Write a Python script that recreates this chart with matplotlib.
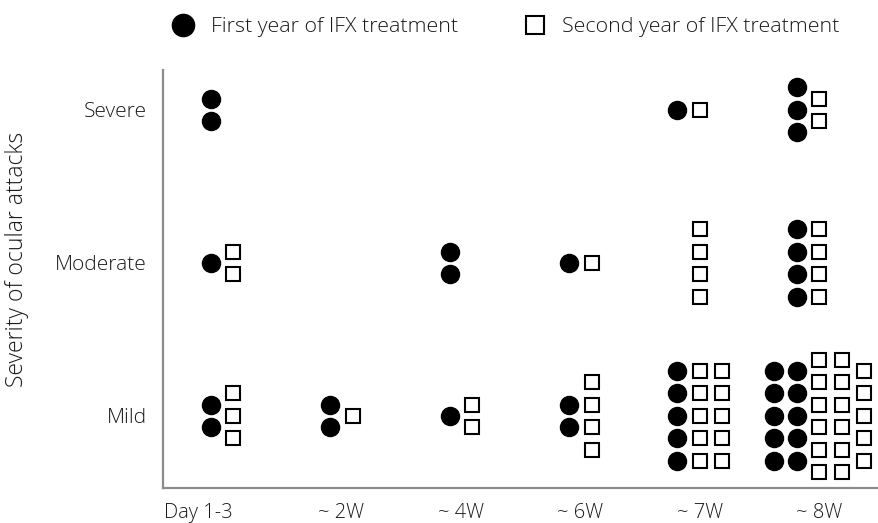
import math
import matplotlib
matplotlib.use('Agg')
import matplotlib.pyplot as plt
from matplotlib.transforms import ScaledTranslation
from matplotlib.lines import Line2D

periods = ['Day 1-3', '~ 2W', '~ 4W', '~ 6W', '~ 7W', '~ 8W']
severities = ['Mild', 'Moderate', 'Severe']

# number of ocular attacks per period (one list per severity)
first_severe = [2, 0, 0, 0, 1, 3]
first_moderate = [1, 0, 2, 1, 0, 4]
first_mild = [2, 2, 1, 2, 5, 10]
second_severe = [0, 0, 0, 0, 1, 2]
second_moderate = [2, 0, 0, 1, 4, 4]
second_mild = [3, 1, 2, 4, 10, 17]

first_year = [first_mild, first_moderate, first_severe]
second_year = [second_mild, second_moderate, second_severe]

plt.rcParams['font.family'] = ['Open Sans', 'DejaVu Sans']
plt.rcParams['font.weight'] = 'light'
TXT = '#1a1a1a'
AX = '#8c8c8c'

fig = plt.figure(figsize=(8.79, 5.23), dpi=100)
W, H = 879, 523
ax = fig.add_axes([163 / W, 1 - 488 / H, 716 / W, 418 / H])
ax.set_xlim(-0.494, 5.498)
ax.set_ylim(-0.4706, 2.261)

for s in ['top', 'right']:
    ax.spines[s].set_visible(False)
for s in ['left', 'bottom']:
    ax.spines[s].set_color(AX)
    ax.spines[s].set_linewidth(1.6)

MAXROW = 6
STEP = 22.5 / 100.0  # inches between neighbouring marks


def split(n):
    if n == 0:
        return []
    nc = math.ceil(n / MAXROW)
    base, extra = divmod(n, nc)
    return [base + (1 if i < extra else 0) for i in range(nc)]


def draw_mark(x, y, dx, dy, kind):
    tr = ax.transData + ScaledTranslation(dx, dy, fig.dpi_scale_trans)
    if kind == 'o':
        ax.plot([x], [y], marker='o', ms=13, color='black', mec='black',
                linestyle='none', transform=tr, clip_on=False)
    else:
        ax.plot([x], [y], marker='s', ms=10.3, mfc='white', mec='black',
                mew=1.5, linestyle='none', transform=tr, clip_on=False)


for p in range(len(periods)):
    nc = max(len(split(first_year[s][p])) for s in range(3))
    ns = max(len(split(second_year[s][p])) for s in range(3))
    total = nc + ns
    for s in range(3):
        cc = split(first_year[s][p])
        sc = split(second_year[s][p])
        cols = []
        # circles right-aligned to the boundary, squares left-aligned
        for i, k in enumerate(cc):
            cols.append((nc - len(cc) + i, k, 'o'))
        for i, k in enumerate(sc):
            cols.append((nc + i, k, 's'))
        for j, k, kind in cols:
            dx = (j - (total - 1) / 2) * STEP
            for r in range(k):
                dy = -(r - (k - 1) / 2) * STEP
                draw_mark(p, s, dx, dy, kind)

ax.set_xticks(range(len(periods)))
ax.set_xticklabels(periods)
ax.set_yticks(range(len(severities)))
ax.set_yticklabels(severities)
ax.tick_params(axis='both', length=0, labelsize=14.5, labelcolor=TXT)
ax.tick_params(axis='y', pad=11.5, labelsize=15)
ax.tick_params(axis='x', pad=10.5)
for lab in ax.get_xticklabels()[:1]:
    lab.set_transform(lab.get_transform() + ScaledTranslation(-24 / 100, 0, fig.dpi_scale_trans))

fig.text(17 / W, 1 - 259 / H, 'Severity of ocular attacks', rotation=90,
         ha='center', va='center', fontsize=16.5, color=TXT)

handles = [
    Line2D([], [], marker='o', ms=16, color='black', linestyle='none'),
    Line2D([], [], marker='s', ms=13, mfc='white', mec='black', mew=1.5, linestyle='none'),
]
fig.legend(handles, ['First year of IFX treatment', 'Second year of IFX treatment'],
           loc='center', bbox_to_anchor=(506 / W, 1 - 27 / H), ncol=2, frameon=False,
           fontsize=15.4, handlelength=1.0, handletextpad=0.78, columnspacing=3.1,
           labelcolor=TXT)

fig.savefig('out.png', dpi=100)
